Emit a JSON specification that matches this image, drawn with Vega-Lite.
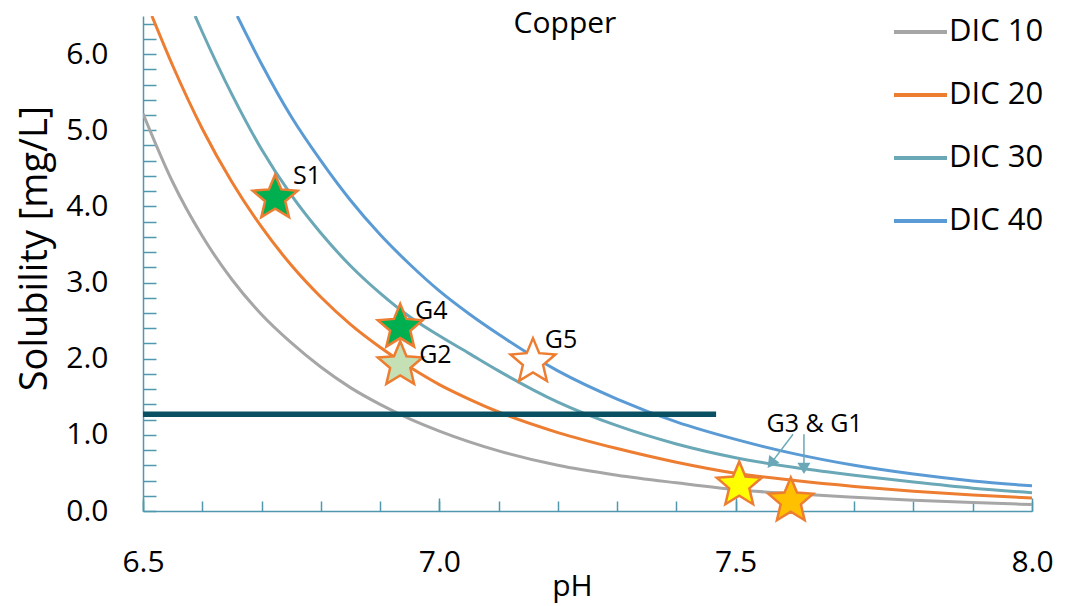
{
  "$schema": "https://vega.github.io/schema/vega-lite/v6.json",
  "width": 889,
  "height": 495,
  "autosize": {"type": "none"},
  "padding": {"left": 143, "top": 16, "right": 44, "bottom": 95},
  "config": {
    "font": "Open Sans",
    "view": {"stroke": null},
    "axis": {"grid": false, "domainColor": "#4f98ad", "tickColor": "#4f98ad", "domainWidth": 1.5, "tickWidth": 1.5, "labelColor": "#000000", "titleColor": "#000000", "titleFontWeight": "normal"}
  },
  "datasets": {
    "curves": [
      {"DIC": "DIC 10", "pH": 6.50, "S": 5.22}, {"DIC": "DIC 10", "pH": 6.55, "S": 4.32}, {"DIC": "DIC 10", "pH": 6.60, "S": 3.61}, {"DIC": "DIC 10", "pH": 6.65, "S": 3.04}, {"DIC": "DIC 10", "pH": 6.70, "S": 2.58}, {"DIC": "DIC 10", "pH": 6.75, "S": 2.21}, {"DIC": "DIC 10", "pH": 6.80, "S": 1.89}, {"DIC": "DIC 10", "pH": 6.85, "S": 1.62}, {"DIC": "DIC 10", "pH": 6.90, "S": 1.40}, {"DIC": "DIC 10", "pH": 6.95, "S": 1.21}, {"DIC": "DIC 10", "pH": 7.00, "S": 1.05}, {"DIC": "DIC 10", "pH": 7.10, "S": 0.79}, {"DIC": "DIC 10", "pH": 7.20, "S": 0.60}, {"DIC": "DIC 10", "pH": 7.30, "S": 0.47}, {"DIC": "DIC 10", "pH": 7.40, "S": 0.37}, {"DIC": "DIC 10", "pH": 7.50, "S": 0.28}, {"DIC": "DIC 10", "pH": 7.60, "S": 0.225}, {"DIC": "DIC 10", "pH": 7.70, "S": 0.18}, {"DIC": "DIC 10", "pH": 7.80, "S": 0.14}, {"DIC": "DIC 10", "pH": 7.90, "S": 0.11}, {"DIC": "DIC 10", "pH": 8.00, "S": 0.085},
      {"DIC": "DIC 20", "pH": 6.515, "S": 6.5}, {"DIC": "DIC 20", "pH": 6.55, "S": 5.85}, {"DIC": "DIC 20", "pH": 6.60, "S": 5.02}, {"DIC": "DIC 20", "pH": 6.65, "S": 4.32}, {"DIC": "DIC 20", "pH": 6.70, "S": 3.73}, {"DIC": "DIC 20", "pH": 6.75, "S": 3.23}, {"DIC": "DIC 20", "pH": 6.80, "S": 2.81}, {"DIC": "DIC 20", "pH": 6.85, "S": 2.45}, {"DIC": "DIC 20", "pH": 6.90, "S": 2.15}, {"DIC": "DIC 20", "pH": 6.95, "S": 1.89}, {"DIC": "DIC 20", "pH": 7.00, "S": 1.66}, {"DIC": "DIC 20", "pH": 7.05, "S": 1.47}, {"DIC": "DIC 20", "pH": 7.10, "S": 1.30}, {"DIC": "DIC 20", "pH": 7.20, "S": 1.03}, {"DIC": "DIC 20", "pH": 7.30, "S": 0.82}, {"DIC": "DIC 20", "pH": 7.40, "S": 0.64}, {"DIC": "DIC 20", "pH": 7.50, "S": 0.495}, {"DIC": "DIC 20", "pH": 7.60, "S": 0.40}, {"DIC": "DIC 20", "pH": 7.70, "S": 0.323}, {"DIC": "DIC 20", "pH": 7.80, "S": 0.26}, {"DIC": "DIC 20", "pH": 7.90, "S": 0.21}, {"DIC": "DIC 20", "pH": 8.00, "S": 0.17},
      {"DIC": "DIC 30", "pH": 6.588, "S": 6.5}, {"DIC": "DIC 30", "pH": 6.60, "S": 6.29}, {"DIC": "DIC 30", "pH": 6.65, "S": 5.47}, {"DIC": "DIC 30", "pH": 6.70, "S": 4.75}, {"DIC": "DIC 30", "pH": 6.75, "S": 4.15}, {"DIC": "DIC 30", "pH": 6.80, "S": 3.65}, {"DIC": "DIC 30", "pH": 6.85, "S": 3.22}, {"DIC": "DIC 30", "pH": 6.90, "S": 2.86}, {"DIC": "DIC 30", "pH": 6.95, "S": 2.55}, {"DIC": "DIC 30", "pH": 7.00, "S": 2.30}, {"DIC": "DIC 30", "pH": 7.05, "S": 2.07}, {"DIC": "DIC 30", "pH": 7.10, "S": 1.84}, {"DIC": "DIC 30", "pH": 7.20, "S": 1.43}, {"DIC": "DIC 30", "pH": 7.30, "S": 1.12}, {"DIC": "DIC 30", "pH": 7.40, "S": 0.88}, {"DIC": "DIC 30", "pH": 7.50, "S": 0.70}, {"DIC": "DIC 30", "pH": 7.60, "S": 0.57}, {"DIC": "DIC 30", "pH": 7.70, "S": 0.47}, {"DIC": "DIC 30", "pH": 7.80, "S": 0.38}, {"DIC": "DIC 30", "pH": 7.90, "S": 0.30}, {"DIC": "DIC 30", "pH": 8.00, "S": 0.24},
      {"DIC": "DIC 40", "pH": 6.659, "S": 6.5}, {"DIC": "DIC 40", "pH": 6.70, "S": 5.87}, {"DIC": "DIC 40", "pH": 6.75, "S": 5.18}, {"DIC": "DIC 40", "pH": 6.80, "S": 4.60}, {"DIC": "DIC 40", "pH": 6.85, "S": 4.08}, {"DIC": "DIC 40", "pH": 6.90, "S": 3.63}, {"DIC": "DIC 40", "pH": 6.95, "S": 3.24}, {"DIC": "DIC 40", "pH": 7.00, "S": 2.89}, {"DIC": "DIC 40", "pH": 7.05, "S": 2.59}, {"DIC": "DIC 40", "pH": 7.10, "S": 2.32}, {"DIC": "DIC 40", "pH": 7.20, "S": 1.84}, {"DIC": "DIC 40", "pH": 7.30, "S": 1.47}, {"DIC": "DIC 40", "pH": 7.40, "S": 1.17}, {"DIC": "DIC 40", "pH": 7.50, "S": 0.94}, {"DIC": "DIC 40", "pH": 7.60, "S": 0.75}, {"DIC": "DIC 40", "pH": 7.70, "S": 0.60}, {"DIC": "DIC 40", "pH": 7.80, "S": 0.485}, {"DIC": "DIC 40", "pH": 7.90, "S": 0.395}, {"DIC": "DIC 40", "pH": 8.00, "S": 0.33}
    ],
    "limit": [{"pH": 6.5, "pH2": 7.467, "S": 1.27}],
    "samples": [
      {"id": "S1", "pH": 6.723, "S": 4.11},
      {"id": "G4", "pH": 6.934, "S": 2.41},
      {"id": "G2", "pH": 6.934, "S": 1.92},
      {"id": "G5", "pH": 7.158, "S": 1.96},
      {"id": "G3", "pH": 7.506, "S": 0.34},
      {"id": "G1", "pH": 7.593, "S": 0.13}
    ],
    "arrows": [
      {"pH": 7.5968, "S": 1.007, "pH2": 7.5596, "S2": 0.625},
      {"pH": 7.6152, "S": 1.007, "pH2": 7.6152, "S2": 0.559}
    ],
    "labels": [
      {"pH": 6.753, "S": 4.40, "text": "S1"},
      {"pH": 6.959, "S": 2.62, "text": "G4"},
      {"pH": 6.966, "S": 2.05, "text": "G2"},
      {"pH": 7.178, "S": 2.24, "text": "G5"},
      {"pH": 7.552, "S": 1.14, "text": "G3 & G1"}
    ],
    "title": [{"pH": 7.212, "S": 6.39, "text": "Copper"}]
  },
  "layer": [
    {
      "data": {"name": "curves"},
      "mark": {"type": "line", "strokeWidth": 3, "interpolate": "monotone", "clip": true},
      "encoding": {
        "x": {"field": "pH", "type": "quantitative", "scale": {"domain": [6.5, 8.0], "nice": false, "zero": false},
          "axis": {"orient": "bottom", "values": [6.5, 7, 7.5, 8], "format": ".1f", "tickSize": -13, "labelPadding": 49, "labelFontSize": 30, "labelFlush": false, "labelOverlap": false, "title": "pH", "titleFontSize": 30, "titleX": 429, "titleY": 84, "titleBaseline": "alphabetic", "titleAlign": "center"}},
        "y": {"field": "S", "type": "quantitative", "title": "Solubility [mg/L]", "scale": {"domain": [0, 6.5], "nice": false},
          "axis": {"values": [0, 0.2, 0.4, 0.6, 0.8, 1, 1.2, 1.4, 1.6, 1.8, 2, 2.2, 2.4, 2.6, 2.8, 3, 3.2, 3.4, 3.6, 3.8, 4, 4.2, 4.4, 4.6, 4.8, 5, 5.2, 5.4, 5.6, 5.8, 6, 6.2, 6.4],
            "tickCount": 50,
            "labelExpr": "abs(datum.value - round(datum.value)) < 0.01 ? format(datum.value, '.1f') : ''",
            "tickSize": -13, "labelPadding": 48, "labelFontSize": 30, "labelOverlap": false, "titleFontSize": 38, "titleX": -108, "titleY": 232, "titleAngle": -90, "titleAlign": "center", "titleBaseline": "middle"}},
        "color": {"field": "DIC", "type": "nominal",
          "scale": {"domain": ["DIC 10", "DIC 20", "DIC 30", "DIC 40"], "range": ["#a6a6a6", "#ed7d31", "#6aa8b7", "#5b9bd5"]},
          "legend": {"title": null, "orient": "none", "legendX": 749, "legendY": -12.5, "symbolType": "stroke", "symbolSize": 2809, "symbolStrokeWidth": 4, "labelFontSize": 31, "labelOffset": 0, "rowPadding": 19, "padding": 0, "labelColor": "#000000", "labelLimit": 300}}
      }
    },
    {
      "data": {"name": "limit"},
      "mark": {"type": "rule", "strokeWidth": 5.5, "color": "#0a5063", "strokeCap": "butt"},
      "encoding": {
        "x": {"field": "pH", "type": "quantitative",
          "axis": {"orient": "bottom", "values": [6.5, 6.6, 6.7, 6.8, 6.9, 7.0, 7.1, 7.2, 7.3, 7.4, 7.5, 7.6, 7.7, 7.8, 7.9, 8.0], "tickCount": 50, "labels": false, "domain": false, "tickSize": -10, "title": null}},
        "x2": {"field": "pH2"},
        "y": {"field": "S", "type": "quantitative", "title": "Solubility [mg/L]"}
      }
    },
    {
      "data": {"name": "arrows"},
      "mark": {"type": "rule", "strokeWidth": 1.5, "color": "#6aa8b7"},
      "encoding": {
        "x": {"field": "pH", "type": "quantitative", "axis": null},
        "x2": {"field": "pH2"},
        "y": {"field": "S", "type": "quantitative", "title": "Solubility [mg/L]"},
        "y2": {"field": "S2"}
      }
    },
    {
      "data": {"values": [{"pH": 7.5596, "S": 0.625}]},
      "mark": {"type": "point", "shape": "triangle-down", "size": 170, "filled": true, "color": "#6aa8b7", "opacity": 1, "angle": 37},
      "encoding": {
        "x": {"field": "pH", "type": "quantitative", "axis": null},
        "y": {"field": "S", "type": "quantitative", "title": "Solubility [mg/L]"}
      }
    },
    {
      "data": {"values": [{"pH": 7.6152, "S": 0.559}]},
      "mark": {"type": "point", "shape": "triangle-down", "size": 170, "filled": true, "color": "#6aa8b7", "opacity": 1},
      "encoding": {
        "x": {"field": "pH", "type": "quantitative", "axis": null},
        "y": {"field": "S", "type": "quantitative", "title": "Solubility [mg/L]"}
      }
    },
    {
      "data": {"name": "samples"},
      "mark": {"type": "point", "shape": "M0,-1L0.2645,-0.364L0.951,-0.309L0.428,0.139L0.588,0.809L0,0.45L-0.588,0.809L-0.428,0.139L-0.951,-0.309L-0.2645,-0.364Z", "size": 2228, "filled": true, "stroke": "#ed7d31", "strokeWidth": 2.5, "opacity": 1},
      "encoding": {
        "x": {"field": "pH", "type": "quantitative", "axis": null},
        "y": {"field": "S", "type": "quantitative", "title": "Solubility [mg/L]"},
        "fill": {"field": "id", "type": "nominal", "legend": null,
          "scale": {"domain": ["S1", "G4", "G2", "G5", "G3", "G1"], "range": ["#00b050", "#00b050", "#c5e0b4", "#ffffff", "#ffff00", "#ffc000"]}}
      }
    },
    {
      "data": {"name": "labels"},
      "mark": {"type": "text", "align": "left", "baseline": "middle", "fontSize": 25, "color": "#000000"},
      "encoding": {
        "x": {"field": "pH", "type": "quantitative", "axis": null},
        "y": {"field": "S", "type": "quantitative", "title": "Solubility [mg/L]"},
        "text": {"field": "text"}
      }
    },
    {
      "data": {"name": "title"},
      "mark": {"type": "text", "align": "center", "baseline": "middle", "fontSize": 30, "color": "#000000"},
      "encoding": {
        "x": {"field": "pH", "type": "quantitative", "axis": null},
        "y": {"field": "S", "type": "quantitative", "title": "Solubility [mg/L]"},
        "text": {"field": "text"}
      }
    }
  ],
  "resolve": {"axis": {"x": "independent"}}
}
